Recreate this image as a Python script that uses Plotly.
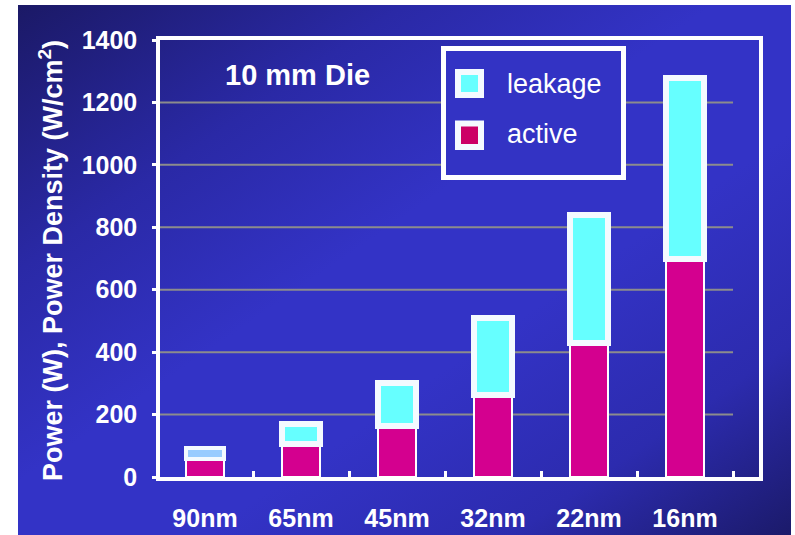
import base64
import plotly.graph_objects as go

# ---- data -------------------------------------------------------------
categories = ["90nm", "65nm", "45nm", "32nm", "22nm", "16nm"]
active_power = [58, 105, 165, 262, 428, 698]
leakage_power = [35, 65, 135, 246, 412, 579]
y_ticks = [0, 200, 400, 600, 800, 1000, 1200, 1400]

# ---- styling ----------------------------------------------------------
W, H = 795, 535
ACTIVE_COLOR = "#d4008f"
LEAK_COLORS = ["#99ccff", "#66ffff", "#66ffff", "#66ffff", "#66ffff", "#66ffff"]
LEAK_LINE_WIDTHS = [4, 6, 6, 6, 6, 6]
BOLD = dict(family="Liberation Sans, Arial, sans-serif", color="white", weight="bold")
X_START = -0.469  # category axis begins slightly right of the first boundary


def fx(px):
    return px / W


def fy(py):
    return 1 - py / H


# diagonal blue gradient used as the slide background
svg = (
    '<svg xmlns="http://www.w3.org/2000/svg" width="773" height="530" '
    'preserveAspectRatio="none"><defs>'
    '<linearGradient id="g" x1="0" y1="0" x2="1" y2="1">'
    '<stop offset="0" stop-color="#1b1966"/>'
    '<stop offset="0.25" stop-color="#2a29a6"/>'
    '<stop offset="0.45" stop-color="#3333c6"/>'
    '<stop offset="0.62" stop-color="#3333c6"/>'
    '<stop offset="0.82" stop-color="#2c2bae"/>'
    '<stop offset="1" stop-color="#1b1a6a"/>'
    '</linearGradient></defs>'
    '<rect width="100%" height="100%" fill="url(#g)"/></svg>'
)
bg_src = "data:image/svg+xml;base64," + base64.b64encode(svg.encode()).decode()

fig = go.Figure()
fig.add_bar(
    x=categories, y=active_power, name="active", width=0.4,
    marker=dict(color=ACTIVE_COLOR, line=dict(color="white", width=2)),
)
fig.add_bar(
    x=categories, y=leakage_power, name="leakage", width=0.4,
    marker=dict(color=LEAK_COLORS, line=dict(color="#f4faff", width=LEAK_LINE_WIDTHS)),
)

shapes = []
# horizontal grid lines stop at the last category boundary
for v in y_ticks[1:-1]:
    shapes.append(dict(
        type="line", xref="x", yref="y", x0=X_START, x1=5.5, y0=v, y1=v,
        line=dict(color="#8c8c8c", width=2), layer="below",
    ))

# legend box
shapes.append(dict(
    type="rect", xref="paper", yref="paper",
    x0=fx(443.5), x1=fx(623.5), y0=fy(48.5), y1=fy(177.5),
    fillcolor="#3333c4", line=dict(color="white", width=5), layer="above",
))
for (top, bottom), color in [((72, 95), "#66ffff"), ((123.5, 147), "#cc0066")]:
    shapes.append(dict(
        type="rect", xref="paper", yref="paper",
        x0=fx(458), x1=fx(481), y0=fy(bottom), y1=fy(top),
        fillcolor=color, line=dict(color="#f4faff", width=6), layer="above",
    ))

legend_font = dict(family="Liberation Sans, Arial, sans-serif", color="white", size=27)
annotations = [
    dict(text="leakage", x=fx(505), y=fy(84), xref="paper", yref="paper",
         xanchor="left", yanchor="middle", showarrow=False, font=legend_font),
    dict(text="active", x=fx(505), y=fy(134), xref="paper", yref="paper",
         xanchor="left", yanchor="middle", showarrow=False, font=legend_font),
    dict(text="10 mm Die", x=fx(297), y=fy(75), xref="paper", yref="paper",
         xanchor="center", yanchor="middle", showarrow=False,
         font=dict(BOLD, size=29)),
    dict(text="Power (W), Power Density (W/cm<sup>2</sup>)", x=fx(51), y=fy(261),
         xref="paper", yref="paper", xanchor="center", yanchor="middle",
         textangle=-90, showarrow=False, font=dict(BOLD, size=27)),
]

fig.update_layout(
    width=W, height=H,
    margin=dict(l=0, r=0, t=0, b=0, autoexpand=False),
    paper_bgcolor="white",
    plot_bgcolor="rgba(0,0,0,0)",
    barmode="stack",
    showlegend=False,
    images=[dict(
        source=bg_src, xref="paper", yref="paper",
        x=fx(18), y=fy(5), sizex=773 / W, sizey=530 / H,
        xanchor="left", yanchor="top", sizing="stretch", layer="below",
    )],
    shapes=shapes,
    annotations=annotations,
    xaxis=dict(
        type="category", domain=[fx(160), fx(759)], range=[X_START, X_START + 599 / 96],
        automargin=False,
        showline=True, linecolor="white", linewidth=3.5, mirror=True,
        ticks="inside", tickson="boundaries", ticklen=6, tickwidth=3, tickcolor="white",
        showgrid=False, tickfont=dict(BOLD, size=25), ticklabelstandoff=16,
    ),
    yaxis=dict(
        domain=[fy(477), fy(40)], range=[0, 1400], tickvals=y_ticks,
        automargin=False,
        showline=True, linecolor="white", linewidth=3.5, mirror=True,
        ticks="outside", ticklen=4, tickwidth=3, tickcolor="white",
        showgrid=False, zeroline=False, tickfont=dict(BOLD, size=25),
        ticklabelstandoff=10,
    ),
)

fig.write_html("out.html")
